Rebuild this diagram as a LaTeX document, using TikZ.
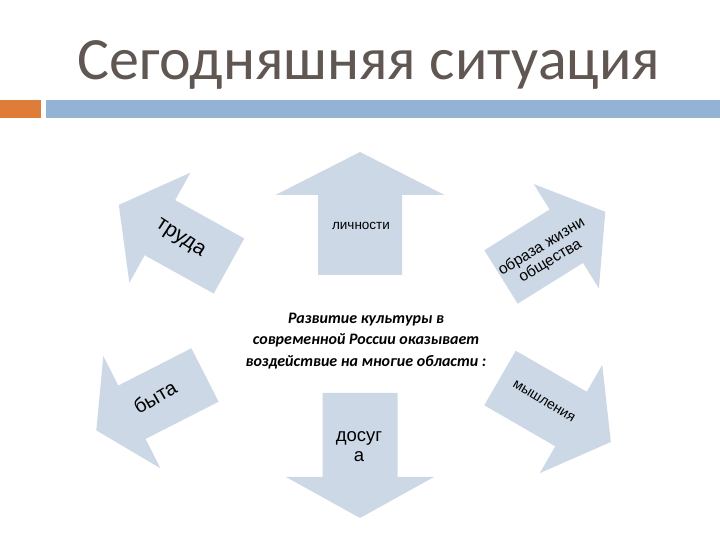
\documentclass[tikz,border=0pt]{standalone}
\usepackage{fontspec}
\setmainfont{Carlito}
\newfontfamily\arialfont{Liberation Sans}
\usetikzlibrary{positioning}

\definecolor{titlegray}{RGB}{96,86,82}
\definecolor{barorange}{RGB}{224,124,58}
\definecolor{barblue}{RGB}{148,178,212}
\definecolor{arrowfill}{RGB}{205,216,230}

\begin{document}
\begin{tikzpicture}[x=1pt,y=1pt]
    \tikzstyle{BlockArrow} = [
            fill=arrowfill,
            draw=none
    ];
    \tikzstyle{ArrowLabel} = [
            inner sep=0pt,
            align=center,
            text=black
    ];
    \tikzstyle{Title} = [
            inner sep=0pt,
            text=titlegray,
            font={\fontsize{60}{66}\selectfont}
    ];
    \tikzstyle{Topic} = [
            inner sep=0pt,
            align=center,
            font={\fontsize{16}{21.5}\selectfont\bfseries\itshape}
    ];

    \useasboundingbox (0,0) rectangle (720,540);

    % title and bars
    \node[Title, name=title, anchor=base] at (369,460) {Сегодняшняя ситуация};
    \fill[barorange] (0,422) rectangle (41,440);
    \fill[barblue]   (46,422) rectangle (720,440);

    % arrows
    \draw[BlockArrow, shift={(360,265)}, rotate=90]
        (0,-42) -- (80,-42) -- (80,-84.5) -- (123,0) -- (80,84.5) -- (80,42) -- (0,42) -- cycle;
    \draw[BlockArrow, shift={(360,147)}, rotate=-90]
        (0,-37.5) -- (84,-37.5) -- (84,-74) -- (125,0) -- (84,74) -- (84,37.5) -- (0,37.5) -- cycle;
    \draw[BlockArrow, shift={(229,274)}, rotate=151]
        (0,-31.5) -- (79,-31.5) -- (79,-63) -- (126,0) -- (79,63) -- (79,31.5) -- (0,31.5) -- cycle;
    \draw[BlockArrow, shift={(501,263)}, rotate=32]
        (0,-31.5) -- (77,-31.5) -- (77,-61.5) -- (123,0) -- (77,61.5) -- (77,31.5) -- (0,31.5) -- cycle;
    \draw[BlockArrow, shift={(205,165)}, rotate=207]
        (0,-30) -- (82,-30) -- (82,-63) -- (122,0) -- (82,63) -- (82,30) -- (0,30) -- cycle;
    \draw[BlockArrow, shift={(500,162)}, rotate=-30]
        (0,-31.5) -- (82,-31.5) -- (82,-62.5) -- (128,0) -- (82,62.5) -- (82,31.5) -- (0,31.5) -- cycle;

    % labels
    \node[ArrowLabel, name=lichnost, font={\arialfont\fontsize{13.5}{16}\selectfont}] at (361,314) {личности};
    \node[ArrowLabel, name=dosug, font={\arialfont\fontsize{18.5}{20}\selectfont}] at (359,93) {досуг\\а};
    \node[ArrowLabel, name=truda, rotate=-33, font={\arialfont\fontsize{21}{24}\selectfont}] at (180,301) {труда};
    \node[ArrowLabel, name=obraz, rotate=31, font={\arialfont\fontsize{15.5}{17}\selectfont}] at (546,286) {образа жизни\\общества};
    \node[ArrowLabel, name=byta, rotate=30, font={\arialfont\fontsize{20}{24}\selectfont}] at (155,143) {быта};
    \node[ArrowLabel, name=myshl, rotate=-31, font={\arialfont\fontsize{14}{17}\selectfont}] at (544,139) {мышления};

    \node[Topic, name=topic] at (366,199) {Развитие культуры в\\современной России оказывает\\воздействие на многие области :};
\end{tikzpicture}
\end{document}
